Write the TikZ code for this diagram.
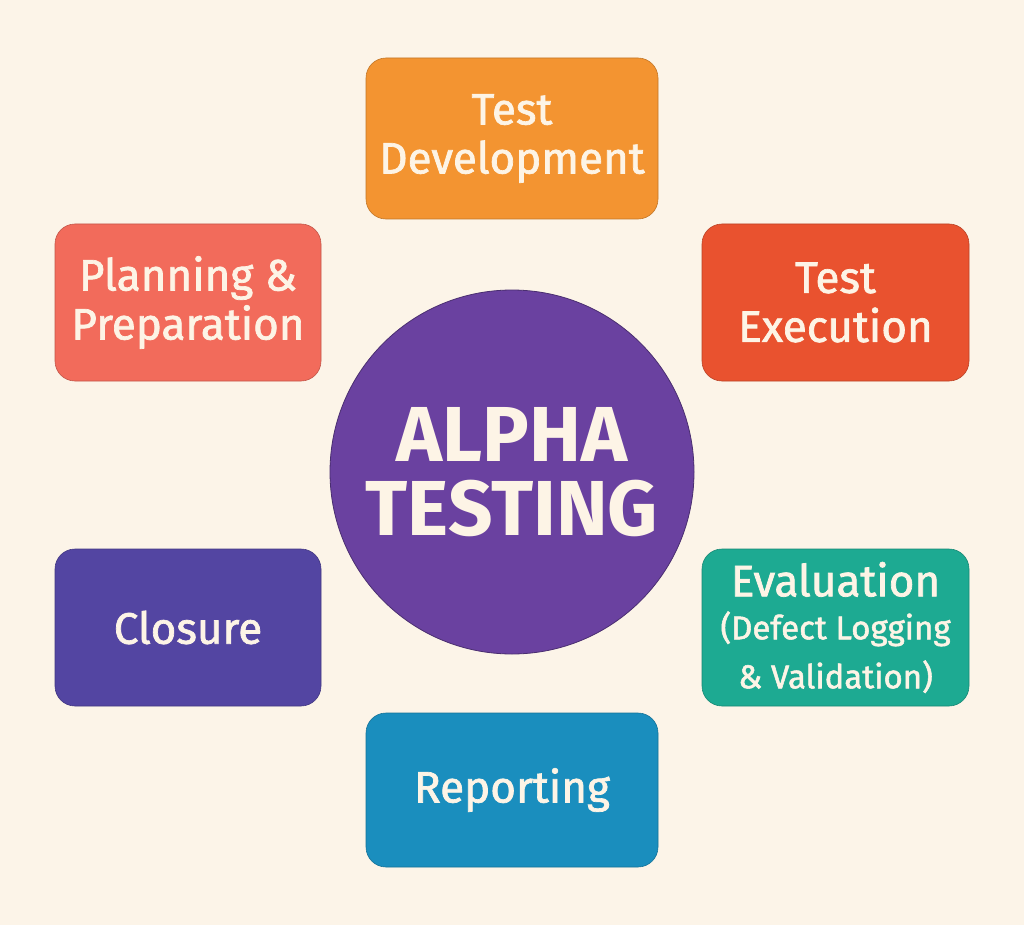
\documentclass[tikz,border=0pt]{standalone}
\usepackage{fontspec}
\setmainfont{Fira Sans}
\newfontfamily\boxfont[FakeBold=1.6]{Fira Sans}
\definecolor{bgc}{HTML}{FCF4E8}
\definecolor{txtc}{HTML}{FDF4E6}
\definecolor{c1}{HTML}{F39431}
\definecolor{c2}{HTML}{F26B5B}
\definecolor{c3}{HTML}{E9522F}
\definecolor{c4}{HTML}{6A41A0}
\definecolor{c5}{HTML}{5345A2}
\definecolor{c6}{HTML}{1DAA92}
\definecolor{c7}{HTML}{1A8EBE}
\tikzset{
  stage/.style={rounded corners=20pt, draw=#1!80!black, line width=0.6pt, fill=#1,
    text=txtc, align=center, inner sep=0pt, font=\boxfont\fontsize{44}{49}\selectfont},
}
\begin{document}
\begin{tikzpicture}[x=1pt,y=-1pt]
\fill[bgc] (0,0) rectangle (1024,925);
\useasboundingbox (0,0) rectangle (1024,925);
\node[circle, fill=c4, draw=c4!70!black, line width=0.8pt, minimum size=364pt, inner sep=0pt,
  text=txtc, align=center, font=\bfseries\fontsize{78}{74}\selectfont] (center) at (512,472) {ALPHA\\TESTING};
\node[stage=c1, minimum width=292pt, minimum height=161pt] (dev) at (512,138.5) {Test\\Development};
\node[stage=c2, minimum width=266pt, minimum height=157pt] (plan) at (188,302.5) {Planning \&\\Preparation};
\node[stage=c3, minimum width=267pt, minimum height=157pt] (exec) at (835.5,302.5) {Test\\Execution};
\node[stage=c5, minimum width=266pt, minimum height=157pt] (close) at (188,627.5) {Closure};
\node[stage=c6, minimum width=267pt, minimum height=157pt] (eval) at (835.5,627.5)
  {Evaluation\\[-6pt]\fontsize{33}{40}\selectfont (Defect Logging\\\fontsize{33}{40}\selectfont \& Validation)};
\node[stage=c7, minimum width=292pt, minimum height=154pt] (rep) at (512,790) {Reporting};
\end{tikzpicture}
\end{document}
